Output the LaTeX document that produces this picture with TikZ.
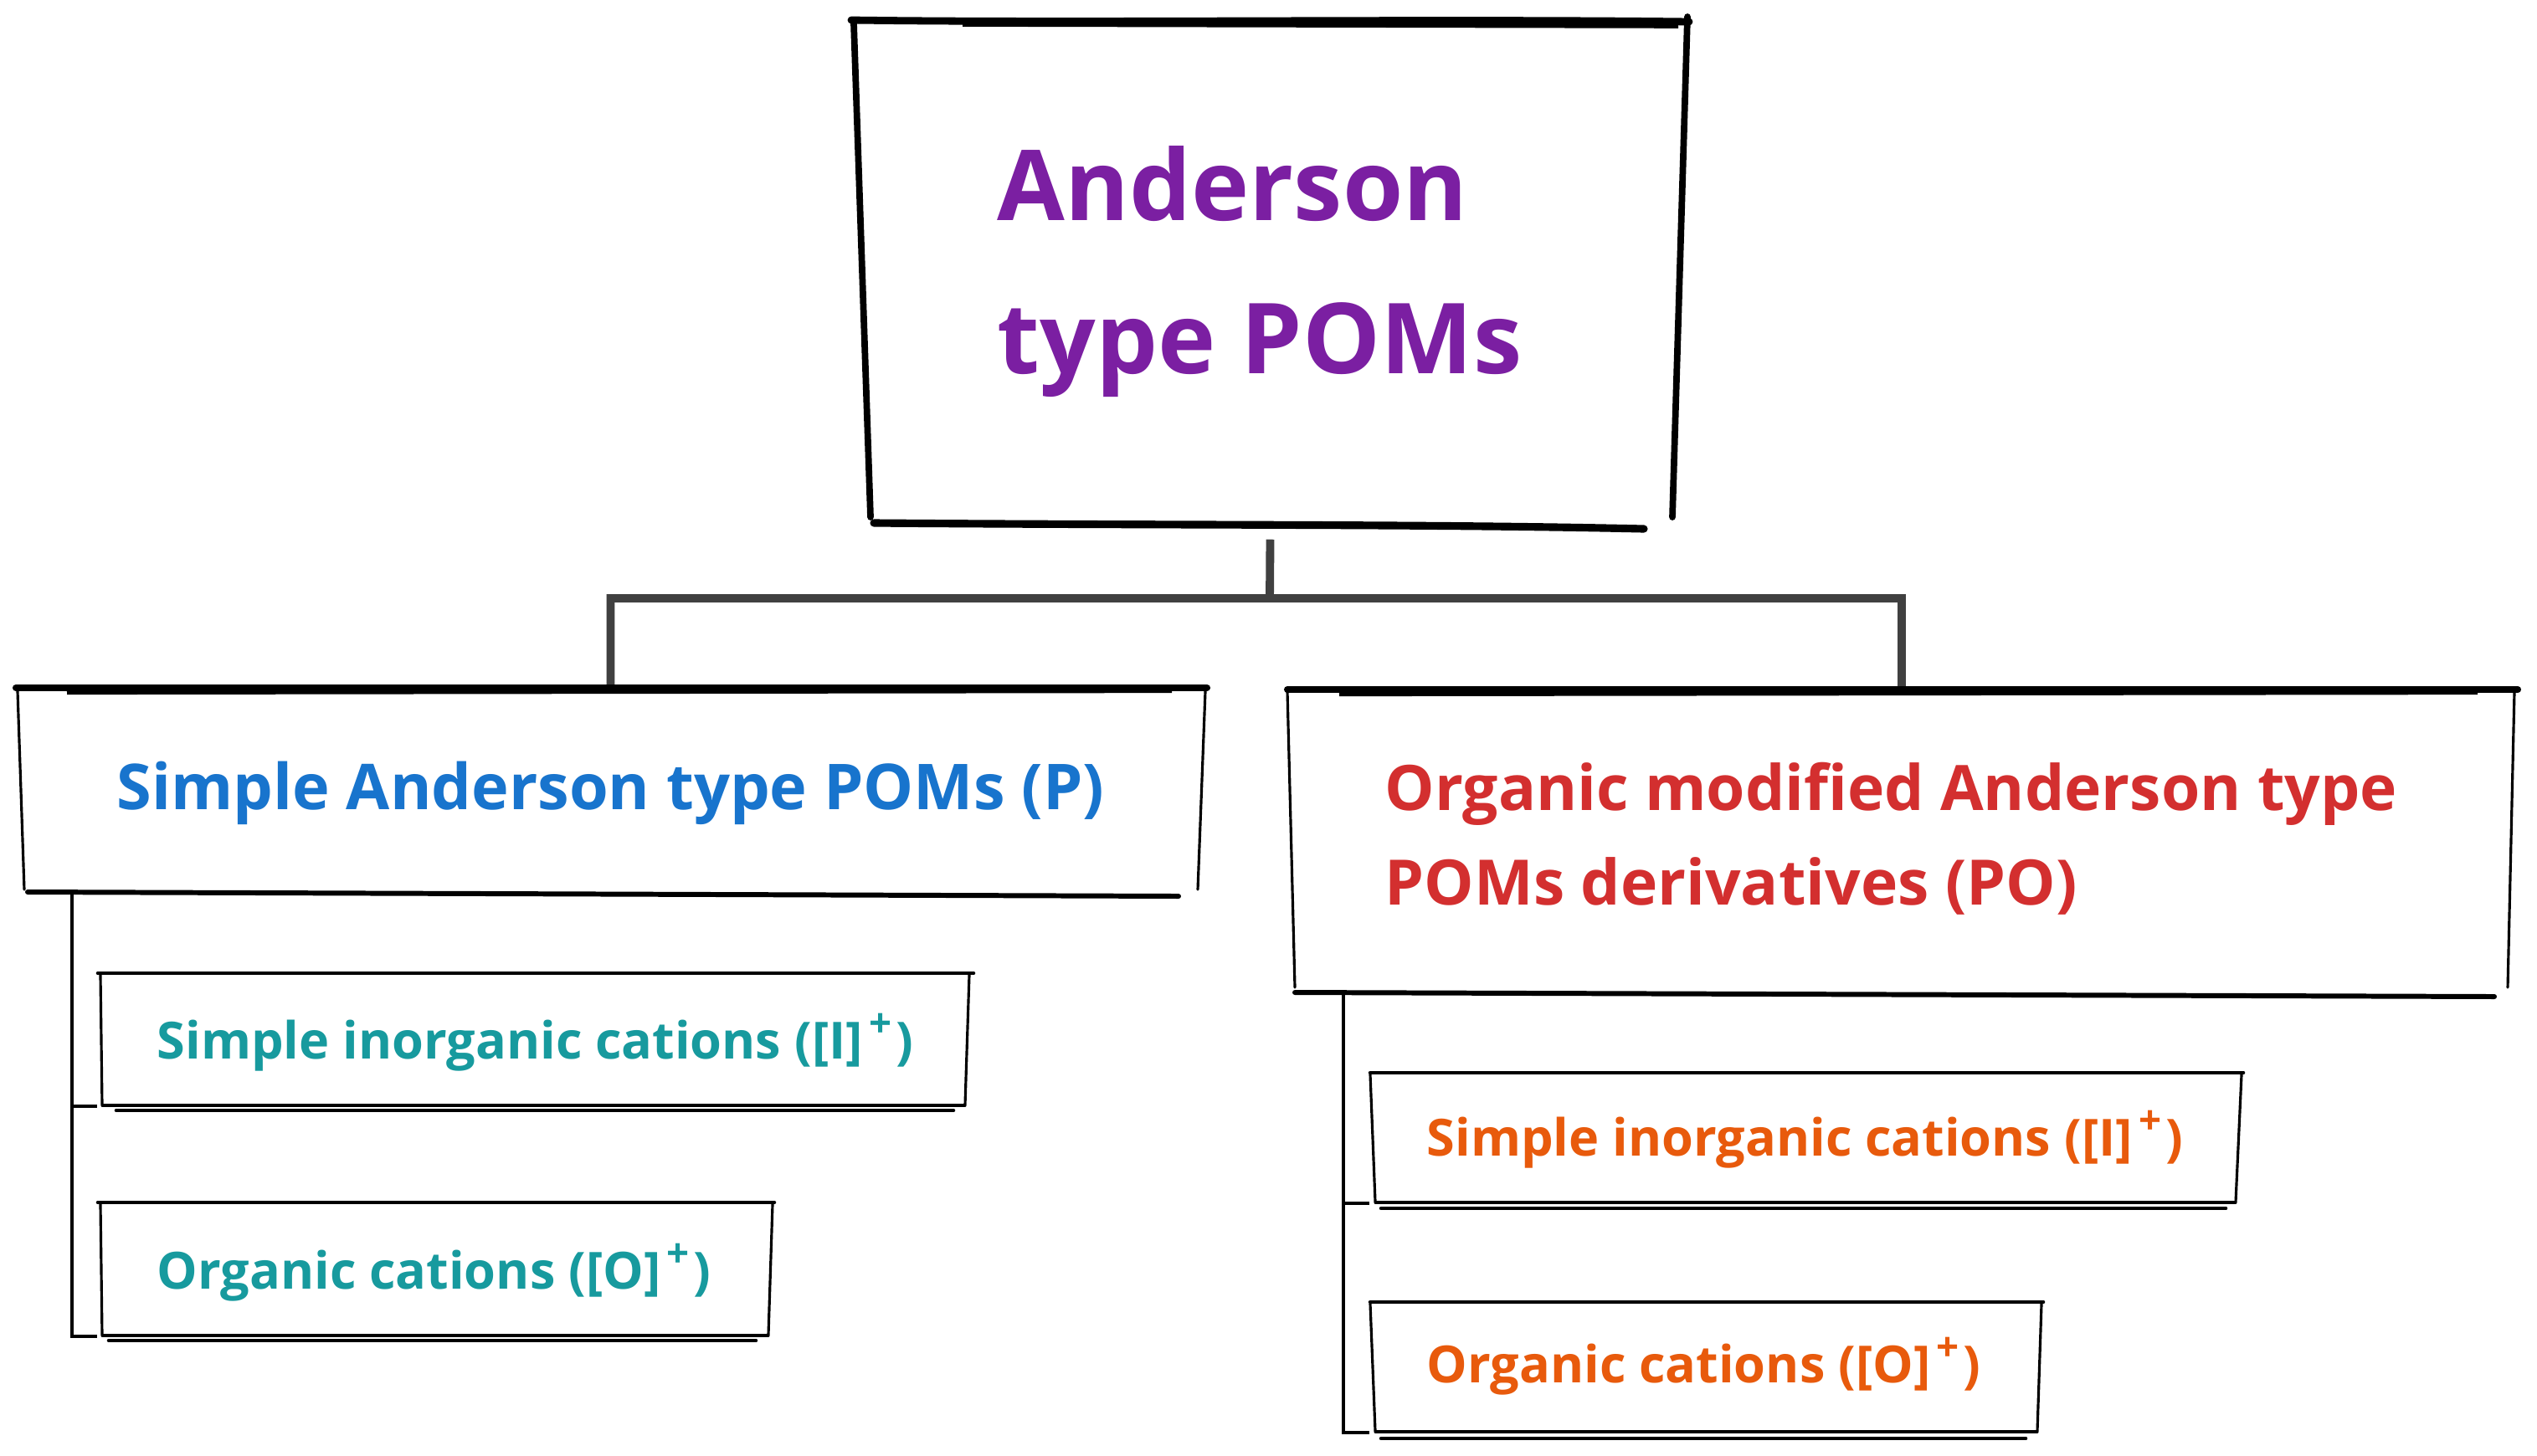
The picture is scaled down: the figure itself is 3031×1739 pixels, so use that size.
\documentclass[tikz,border=0pt]{standalone}
\usepackage{fontspec}
\setmainfont{Open Sans}
\usetikzlibrary{fit}
\definecolor{cpurple}{HTML}{7B1FA2}
\definecolor{cblue}{HTML}{1874CD}
\definecolor{cred}{HTML}{D32F2F}
\definecolor{cteal}{HTML}{179A9E}
\definecolor{corange}{HTML}{E85A0C}
\definecolor{cconn}{HTML}{404040}
\newcommand{\supplus}{\kern0.12em\raisebox{0.42em}{\fontsize{13.5}{13.5}\selectfont +}\kern0.08em}
\begin{document}
\begin{tikzpicture}[x=0.01cm,y=-0.01cm,
  boxn/.style={inner sep=0pt, draw=none},
  sk/.style={line cap=round, line join=round, draw=black},
  conn/.style={draw=cconn, line width=2.8pt},
  subc/.style={draw=black, line width=1.05pt},
  lbl/.style={inner sep=0pt, anchor=base west, font=\bfseries, align=left}]
\useasboundingbox (0,0) rectangle (3031,1739);
\fill[white] (0,0) rectangle (3031,1739);
% invisible named boxes
\node[boxn, fit={(1017,23) (2018,628)}] (top) {};
\node[boxn, fit={(19,822) (1440,1066)}] (P) {};
\node[boxn, fit={(1538,824) (3006,1186)}] (PO) {};
\node[boxn, fit={(117,1163) (1160,1321)}] (S1) {};
\node[boxn, fit={(117,1437) (923,1596)}] (S2) {};
\node[boxn, fit={(1637,1282) (2678,1437)}] (R1) {};
\node[boxn, fit={(1637,1556) (2439,1711)}] (R2) {};
% connectors
\coordinate (bar) at (1517,715);
\draw[conn] ([yshift=-0.16cm]top.south) -- (bar) -| (P.north);
\draw[conn] (bar) -| (PO.north);
\coordinate (pl) at (86,1064);
\coordinate (pr) at (1605,1186);
\draw[subc] (pl) |- (S1.south west);
\draw[subc] (pl) |- (S2.south west);
\draw[subc] (pr) |- (R1.south west);
\draw[subc] (pr) |- (R2.south west);
% top box sketch
\draw[sk, line width=2.5pt] (1017,24) .. controls (1300,28) and (1700,22) .. (2018,26);
\draw[sk, line width=1.6pt, line cap=butt] (1150,29) -- (2005,31);
\draw[sk, line width=2.2pt] (1020,28) -- (1040,618);
\draw[sk, line width=2.2pt] (2016,20) -- (1998,618);
\draw[sk, line width=2.6pt] (1044,625) .. controls (1400,628) and (1700,626) .. (1964,632);
% P box
\draw[sk, line width=2.3pt] (19,822) -- (1442,822);
\draw[sk, line width=1.2pt, line cap=butt] (80,828) -- (1400,826);
\draw[sk, line width=0.9pt] (21,826) -- (29,1063);
\draw[sk, line width=0.9pt] (1440,826) -- (1431,1063);
\draw[sk, line width=1.7pt] (33,1066) -- (1408,1071);
% PO box
\draw[sk, line width=2.3pt] (1538,824) -- (3008,824);
\draw[sk, line width=1.2pt, line cap=butt] (1600,830) -- (2960,828);
\draw[sk, line width=0.9pt] (1538,826) -- (1547,1180);
\draw[sk, line width=0.9pt] (3004,826) -- (2996,1180);
\draw[sk, line width=1.7pt] (1547,1186) -- (2980,1191);
% S1
\draw[sk, line width=1.3pt] (117,1163) -- (1163,1163);
\draw[sk, line width=0.9pt] (120,1165) -- (122,1320);
\draw[sk, line width=0.9pt] (1158,1165) -- (1153,1320);
\draw[sk, line width=0.9pt] (122,1321) -- (1153,1321);
\draw[sk, line width=1.3pt] (139,1327) -- (1139,1327);
% S2
\draw[sk, line width=1.3pt] (117,1437) -- (925,1437);
\draw[sk, line width=0.9pt] (120,1439) -- (122,1595);
\draw[sk, line width=0.9pt] (923,1439) -- (918,1595);
\draw[sk, line width=0.9pt] (122,1596) -- (918,1596);
\draw[sk, line width=1.3pt] (130,1602) -- (903,1602);
% R1
\draw[sk, line width=1.3pt] (1637,1282) -- (2680,1282);
\draw[sk, line width=0.9pt] (1637,1284) -- (1643,1436);
\draw[sk, line width=0.9pt] (2678,1284) -- (2671,1436);
\draw[sk, line width=0.9pt] (1643,1437) -- (2671,1437);
\draw[sk, line width=1.3pt] (1650,1444) -- (2659,1444);
% R2
\draw[sk, line width=1.3pt] (1637,1556) -- (2441,1556);
\draw[sk, line width=0.9pt] (1637,1558) -- (1643,1710);
\draw[sk, line width=0.9pt] (2439,1558) -- (2434,1710);
\draw[sk, line width=0.9pt] (1643,1711) -- (2434,1711);
\draw[sk, line width=1.3pt] (1650,1719) -- (2420,1719);
% labels (multi-line nodes: base = last line)
\node[lbl, text=cpurple, font=\bfseries\fontsize{33.3}{52}\selectfont] (tTop) at (1191,446) {Anderson\\type POMs};
\node[lbl, text=cblue, font=\bfseries\fontsize{21.5}{32}\selectfont] (tP) at (139,967) {Simple Anderson type POMs (P)};
\node[lbl, text=cred, font=\bfseries\fontsize{21.3}{32.1}\selectfont] (tPO) at (1654,1081) {Organic modified Anderson type\\POMs derivatives (PO)};
\node[lbl, text=cteal, font=\bfseries\fontsize{17.4}{20}\selectfont] (tS1) at (187,1265) {Simple inorganic cations ([I]\supplus)};
\node[lbl, text=cteal, font=\bfseries\fontsize{17.4}{20}\selectfont] (tS2) at (187,1540) {Organic cations ([O]\supplus)};
\node[lbl, text=corange, font=\bfseries\fontsize{17.4}{20}\selectfont] (tR1) at (1704,1381) {Simple inorganic cations ([I]\supplus)};
\node[lbl, text=corange, font=\bfseries\fontsize{17.4}{20}\selectfont] (tR2) at (1704,1652) {Organic cations ([O]\supplus)};
\end{tikzpicture}
\end{document}
